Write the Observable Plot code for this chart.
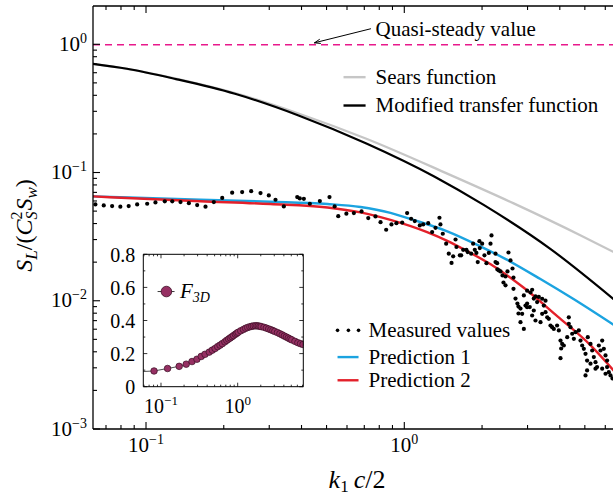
<!DOCTYPE html>
<html><head><meta charset="utf-8">
<script src="https://cdn.jsdelivr.net/npm/d3@7"></script>
<script src="https://cdn.jsdelivr.net/npm/@observablehq/plot@0.6"></script>
<style>
html,body{margin:0;padding:0;background:#fff;}
#wrap{position:relative;width:613px;height:495px;overflow:hidden;background:#fff;}
#wrap svg{position:absolute;max-width:none;}
#wrap svg, #wrap svg text, #wrap svg tspan{font-family:"Liberation Serif","DejaVu Serif","Noto Serif",serif !important;}
</style></head><body><div id="wrap"></div>
<script>
// ---------------- data ----------------
const quasiSteady = 1;

const searsK = [0.062, 0.084, 0.13, 0.22, 0.39, 0.71, 1.46, 2.64, 4.8, 6.43];
const searsS = [0.71, 0.65, 0.545, 0.42, 0.29, 0.185, 0.099, 0.058, 0.0326, 0.0242];

const modK = [0.062, 0.084, 0.13, 0.22, 0.39, 0.71, 1.3, 2.02, 3.67, 6.43];
const modS = [0.71, 0.65, 0.54, 0.415, 0.28, 0.17, 0.094, 0.0564, 0.0255, 0.0104];

const pred1K = [0.062, 0.162, 0.302, 0.502, 0.674, 0.88, 1.08, 1.46, 1.96, 2.45, 3.35, 4.5, 6.43];
const pred1S = [0.0657, 0.0619, 0.0597, 0.0573, 0.0543, 0.0489, 0.0431, 0.0351, 0.0268, 0.0214, 0.0149, 0.0104, 0.00655];

const pred2K = [0.062, 0.162, 0.302, 0.502, 0.674, 0.88, 1.22, 1.46, 1.75, 2.15, 2.88, 3.9, 5.24, 6.43];
const pred2S = [0.0657, 0.0603, 0.0573, 0.0539, 0.0493, 0.0431, 0.0346, 0.0296, 0.0245, 0.0194, 0.0128, 0.00762, 0.00453, 0.00289];

const measK = [
 0.0634,0.0683,0.0736,0.0792,0.0853,0.0920,0.1006,0.1083,0.1177,0.1258,0.1354,0.1459,0.1571,0.1692,0.1822,0.1964,0.2146,0.2346,0.2542,0.2763,0.2975,0.3158,0.3401,0.3833,0.3922,0.4066,
 0.4289,0.4689,0.511,0.535,0.5525,0.594,0.635,0.680,0.722,0.770,0.8054,0.847,
 0.888,0.928,0.977,1.021,1.058,1.093,1.143,1.178,1.232,1.276,1.315,1.362,1.374,1.403,1.446,1.480,1.517,1.539,1.572,1.585,1.633,1.653,1.683,1.732,1.751,1.807,1.839,1.866,1.893,1.916,1.945,1.951,1.993,2.034,2.071,2.115,2.147,2.166,2.245,2.278,2.312,2.245,
 2.283,2.347,2.389,2.410,2.454,2.497,2.520,2.566,2.612,2.635,2.454,2.635,2.683,2.729,2.755,2.805,2.755,
 2.890,2.976,3.066,3.112,3.206,3.253,3.303,3.403,3.453,3.506,2.933,2.976,3.047,3.158,3.112,3.206,3.353,3.403,3.506,3.610,3.665,3.720,3.775,3.887,3.947,4.007,4.067,4.031,4.007,4.127,4.254,4.315,4.381,4.447,4.513,4.581,4.717,4.789,4.861,4.933,5.008,5.079,5.110,5.236,5.315,5.393,5.475,5.552,5.638,5.724,5.810,5.896,5.986,6.07,6.07,6.164,6.258,5.986,5.810,5.475,5.236,5.079,5.008,2.847,2.805,2.890,6.37,
 2.976,3.158,3.56,4.315
];
const measS = [
 0.0569,0.0559,0.0552,0.0546,0.0552,0.0569,0.0576,0.0590,0.0601,0.0601,0.0593,0.0582,0.0562,0.0546,0.0593,0.0639,0.0702,0.0710,0.0722,0.0698,0.0669,0.0619,0.0549,0.0649,0.0634,0.0629,
 0.0576,0.0604,0.0649,0.0549,0.0461,0.0482,0.0487,0.0502,0.0445,0.0459,0.0414,0.0361,
 0.0397,0.0406,0.0411,0.0487,0.0440,0.0422,0.0390,0.0397,0.0406,0.0346,0.0374,0.0448,0.0397,0.0336,0.0281,0.0235,0.0199,0.0224,0.0303,0.0265,0.0228,0.0228,0.0252,0.0252,0.0242,0.0235,0.0281,0.0252,0.0238,0.0202,0.0294,0.0260,0.0281,0.0228,0.0198,0.0238,0.0281,0.0326,0.0202,0.0198,0.0174,0.0235,
 0.0177,0.0171,0.0159,0.0140,0.0156,0.0171,0.0240,0.0208,0.0180,0.0153,0.0133,0.0125,0.0105,0.0096,0.00909,0.00877,0.00803,
 0.0111,0.0121,0.0117,0.0123,0.0109,0.00985,0.0108,0.01046,0.00926,0.0101,0.00926,0.00898,0.0090,0.00847,0.00774,0.00708,0.00687,0.00798,0.00822,0.0073,0.00647,0.00628,0.00609,0.00647,0.00592,0.00494,0.00465,0.00428,0.0036,0.00452,0.00525,0.00667,0.00628,0.00558,0.00509,0.00574,0.00592,0.00494,0.00452,0.00426,0.00389,0.00345,0.00525,0.00465,0.00413,0.00367,0.00335,0.00307,0.00452,0.00413,0.00494,0.00426,0.00378,0.00345,0.00307,0.0028,0.00264,0.00272,0.00298,0.00298,0.00326,0.00289,0.00264,0.00798,0.00687,0.00609,0.0025,
 0.0096,0.0105,0.0075,0.0075
];

// inset: F_3D
const f3dK = [0.04,0.08,0.12,0.17,0.21,0.25,0.29,0.33,0.37,0.42,0.46,0.5,0.54,0.58,0.62,0.67,0.71,0.75,0.79,0.83,0.87,0.92,0.96,1.0,1.08,1.17,1.25,1.33,1.42,1.5,1.58,1.67,1.75,1.83,1.92,2.0,2.17,2.33,2.5,2.67,2.83,3.0,3.25,3.5,3.75,4.0,4.25,4.5,4.75,5.0,5.5,6.0,6.5,7.0];
const f3dV = [0.0915,0.098,0.113,0.126,0.139,0.155,0.169,0.186,0.199,0.212,0.224,0.234,0.245,0.254,0.263,0.274,0.283,0.291,0.298,0.305,0.312,0.320,0.326,0.332,0.341,0.349,0.356,0.361,0.365,0.368,0.370,0.371,0.371,0.370,0.368,0.366,0.362,0.357,0.352,0.347,0.342,0.337,0.330,0.323,0.316,0.309,0.303,0.297,0.291,0.286,0.277,0.269,0.263,0.258];

// tick values
const xMajor = [0.1, 1];
const xMinor = [0.07,0.08,0.09,0.2,0.3,0.4,0.5,0.6,0.7,0.8,0.9,2,3,4,5,6];
const yMajor = [0.001, 0.01, 0.1, 1];
const yMinor = [0.002,0.003,0.004,0.005,0.006,0.007,0.008,0.009,0.02,0.03,0.04,0.05,0.06,0.07,0.08,0.09,0.2,0.3,0.4,0.5,0.6,0.7,0.8,0.9];
const xLabels = [{v: 0.1, e: "\u22121"}, {v: 1, e: "0"}];
const yLabels = [{v: 1, e: "0"}, {v: 0.1, e: "\u22121"}, {v: 0.01, e: "\u22122"}, {v: 0.001, e: "\u22123"}];

const inXMajor = [0.1, 1];
const inXMinor = [0.06,0.07,0.08,0.09,0.2,0.3,0.4,0.5,0.6,0.7,0.8,0.9,2,3,4,5,6,7];
const inYMajor = [0, 0.2, 0.4, 0.6, 0.8];
const inYMinor = [0.1, 0.3, 0.5, 0.7];
const inYLabels = ["0", "0.2", "0.4", "0.6", "0.8"];

// colours
const C_QS = "#e8198b", C_SEARS = "#c6c6c6", C_MOD = "#000000", C_P1 = "#1ba3e0", C_P2 = "#e3202a", C_F3D = "#963063";

const FONT = '"Liberation Serif", "DejaVu Serif", "Noto Serif", serif';
const rows = (xs, ys) => xs.map((x, i) => ({x, y: ys[i]}));

const sears = rows(searsK, searsS), modf = rows(modK, modS);
const p1 = rows(pred1K, pred1S), p2 = rows(pred2K, pred2S);
const meas = rows(measK, measS);
const f3d = rows(f3dK, f3dV);

// legend anchors (data space)
const leg1 = [
  {label: "Sears function", color: C_SEARS, y: 0.559},
  {label: "Modified transfer function", color: C_MOD, y: 0.336}
];
const leg2 = [
  {label: "Prediction 1", color: C_P1, y: 0.00367},
  {label: "Prediction 2", color: C_P2, y: 0.00242}
];
const legMeasY = 0.00593;
const annot = {x1: 0.737, y1: 1.332, x2: 0.447, y2: 1.036, tx: 0.77, text: "Quasi-steady value"};

// ---------------- main plot ----------------
const main = Plot.plot({
  width: 613, height: 495,
  marginLeft: 93, marginRight: 0, marginTop: 6, marginBottom: 66,
  x: {type: "log", domain: [0.06234, 6.427], axis: null},
  y: {type: "log", domain: [1e-3, 1.988], axis: null},
  style: {fontFamily: FONT, background: "white", overflow: "visible"},
  marks: [
    Plot.ruleY([quasiSteady], {stroke: C_QS, strokeWidth: 1.6, strokeDasharray: "7,5"}),
    Plot.line(sears, {x: "x", y: "y", stroke: C_SEARS, strokeWidth: 2.3, curve: "monotone-x", clip: true}),
    Plot.line(modf, {x: "x", y: "y", stroke: C_MOD, strokeWidth: 2.2, curve: "monotone-x", clip: true}),
    Plot.line(p1, {x: "x", y: "y", stroke: C_P1, strokeWidth: 2.4, curve: "monotone-x", clip: true}),
    Plot.line(p2, {x: "x", y: "y", stroke: C_P2, strokeWidth: 2.4, curve: "monotone-x", clip: true}),
    Plot.dot(meas, {x: "x", y: "y", r: 2.1, fill: "black", stroke: "none", clip: true}),
    Plot.arrow([annot], {x1: "x1", y1: "y1", x2: "x2", y2: "y2", stroke: "black", strokeWidth: 1, headLength: 9, headAngle: 40}),
    Plot.text([annot], {x: "tx", y: "y1", text: "text", textAnchor: "start", fontSize: 21, fill: "black"}),
    // legend 1
    Plot.link(leg1, {x1: 0.579, x2: 0.705, y1: "y", y2: "y", stroke: "color", strokeWidth: 2.4}),
    Plot.text(leg1, {x: 0.77, y: "y", text: "label", textAnchor: "start", fontSize: 21, fill: "black"}),
    // legend 2
    Plot.dot([0.549, 0.605, 0.662], {x: d => d, y: legMeasY, r: 1.8, fill: "black", stroke: "none"}),
    Plot.text(["Measured values"], {x: 0.724, y: legMeasY, text: d => d, textAnchor: "start", fontSize: 21, fill: "black"}),
    Plot.link(leg2, {x1: 0.549, x2: 0.662, y1: "y", y2: "y", stroke: "color", strokeWidth: 2.4}),
    Plot.text(leg2, {x: 0.724, y: "y", text: "label", textAnchor: "start", fontSize: 21, fill: "black"})
  ]
});
const wrap = document.getElementById("wrap");
main.style.left = "0px"; main.style.top = "0px";
wrap.appendChild(main);

function decorate(svgNode, opts) {
  const sx = svgNode.scale("x"), sy = svgNode.scale("y");
  const [x0, x1] = sx.range, [yb, yt] = sy.range;
  const svg = d3.select(svgNode);
  const g = svg.append("g").attr("stroke", "black").attr("fill", "none").attr("stroke-width", opts.tickWidth);
  const tick = (a, b, c, d) => g.append("line").attr("x1", a).attr("y1", b).attr("x2", c).attr("y2", d);
  for (const v of opts.xMajor) { const p = sx.apply(v); tick(p, yb, p, yb - opts.major); tick(p, yt, p, yt + opts.major); }
  for (const v of opts.xMinor) { const p = sx.apply(v); if (p < x0 || p > x1) continue; tick(p, yb, p, yb - opts.minor); tick(p, yt, p, yt + opts.minor); }
  for (const v of opts.yMajor) { const p = sy.apply(v); tick(x0, p, x0 + opts.major, p); if (opts.right) tick(x1, p, x1 - opts.major, p); }
  for (const v of opts.yMinor) { const p = sy.apply(v); if (p > yb || p < yt) continue; tick(x0, p, x0 + opts.minor, p); if (opts.right) tick(x1, p, x1 - opts.minor, p); }
  const fr = svg.append("g").attr("stroke", "black").attr("fill", "none").attr("stroke-width", opts.frameWidth);
  fr.append("line").attr("x1", x0).attr("y1", yt).attr("x2", x0).attr("y2", yb);
  fr.append("line").attr("x1", x0).attr("y1", yt).attr("x2", x1).attr("y2", yt);
  fr.append("line").attr("x1", x0).attr("y1", yb).attr("x2", x1).attr("y2", yb);
  if (opts.right) fr.append("line").attr("x1", x1).attr("y1", yt).attr("x2", x1).attr("y2", yb);
  return {svg, sx, sy, x0, x1, yb, yt};
}

function txt(sel, x, y, anchor, size) {
  return sel.append("text").attr("x", x).attr("y", y).attr("text-anchor", anchor)
    .attr("font-size", size).style("font-family", FONT).attr("fill", "black");
}
function pow10(sel, x, y, e, anchor, size, supSize, raise) {
  const t = txt(sel, x, y, anchor, size);
  t.append("tspan").text("10");
  t.append("tspan").attr("dy", -raise).attr("font-size", supSize).text(e);
  return t;
}

const M = decorate(main, {xMajor, xMinor, yMajor, yMinor, major: 7, minor: 4, tickWidth: 1.1, frameWidth: 1.3, right: false});
const lab = M.svg.append("g");
for (const d of xLabels) pow10(lab, M.sx.apply(d.v), M.yb + 23, d.e, "middle", 21, 14, 8);
for (const d of yLabels) pow10(lab, M.x0 - 6, M.sy.apply(d.v) + 6.5, d.e, "end", 21, 14, 8);

// axis titles
const yt = txt(lab, 0, 0, "middle", 24).attr("transform", `translate(32,${(M.yb + M.yt) / 2 + 8}) rotate(-90)`);
yt.append("tspan").attr("font-style", "italic").text("S");
yt.append("tspan").attr("font-style", "italic").attr("font-size", 17).attr("dy", 5).text("L");
yt.append("tspan").attr("dy", -5).text("/(");
yt.append("tspan").attr("font-style", "italic").text("C");
yt.append("tspan").attr("font-size", 16).attr("dy", -10).text("2");
yt.append("tspan").attr("font-style", "italic").attr("font-size", 16).attr("dx", -8).attr("dy", 15).text("S");
yt.append("tspan").attr("font-style", "italic").attr("dy", -5).attr("dx", 1).text("S");
yt.append("tspan").attr("font-style", "italic").attr("font-size", 17).attr("dy", 5).text("w");
yt.append("tspan").attr("dy", -5).text(")");

const xt = txt(lab, (M.x0 + M.x1) / 2 + 4, 488, "middle", 26);
xt.append("tspan").attr("font-style", "italic").text("k");
xt.append("tspan").attr("font-size", 17).attr("dy", 4).text("1");
xt.append("tspan").attr("font-style", "italic").attr("dy", -4).attr("dx", 5).text("c");
xt.append("tspan").text("/2");

// ---------------- inset ----------------
const inset = Plot.plot({
  width: 210, height: 175,
  marginLeft: 43.3, marginRight: 6.7, marginTop: 14.3, marginBottom: 28.3,
  x: {type: "log", domain: [0.0588, 7.17], axis: null},
  y: {domain: [0, 0.8], axis: null},
  style: {fontFamily: FONT, background: "none", overflow: "visible"},
  marks: [
    Plot.line(f3d, {x: "x", y: "y", stroke: "#222", strokeWidth: 0.8, clip: true}),
    Plot.dot(f3d.slice(1), {x: "x", y: "y", r: 3.3, fill: C_F3D, stroke: "#3a0f24", strokeWidth: 0.7, clip: true}),
    Plot.link([{x1: 0.089, x2: 0.148, y: 0.578}], {x1: "x1", x2: "x2", y1: "y", y2: "y", stroke: "#222", strokeWidth: 0.9}),
    Plot.dot([{x: 0.116, y: 0.578}], {x: "x", y: "y", r: 5.3, fill: C_F3D, stroke: "#3a0f24", strokeWidth: 0.8})
  ]
});
inset.style.left = "100px"; inset.style.top = "240px";
wrap.appendChild(inset);
const I = decorate(inset, {xMajor: inXMajor, xMinor: inXMinor, yMajor: inYMajor, yMinor: inYMinor, major: 4, minor: 2, tickWidth: 0.8, frameWidth: 1, right: true});
const il = I.svg.append("g");
for (const d of inXMajor) pow10(il, I.sx.apply(d), I.yb + 26, d === 1 ? "0" : "\u22121", "middle", 20, 13, 8);
inYMajor.forEach((v, i) => {
  txt(il, I.x0 - 8, I.sy.apply(v) + 7.3, "end", 20).text(inYLabels[i]);
});
const ft = txt(il, I.sx.apply(0.177), I.sy.apply(0.578) + 7, "start", 21);
ft.append("tspan").attr("font-style", "italic").text("F");
ft.append("tspan").attr("font-style", "italic").attr("font-size", 14).attr("dy", 4).text("3D");
</script></body></html>
